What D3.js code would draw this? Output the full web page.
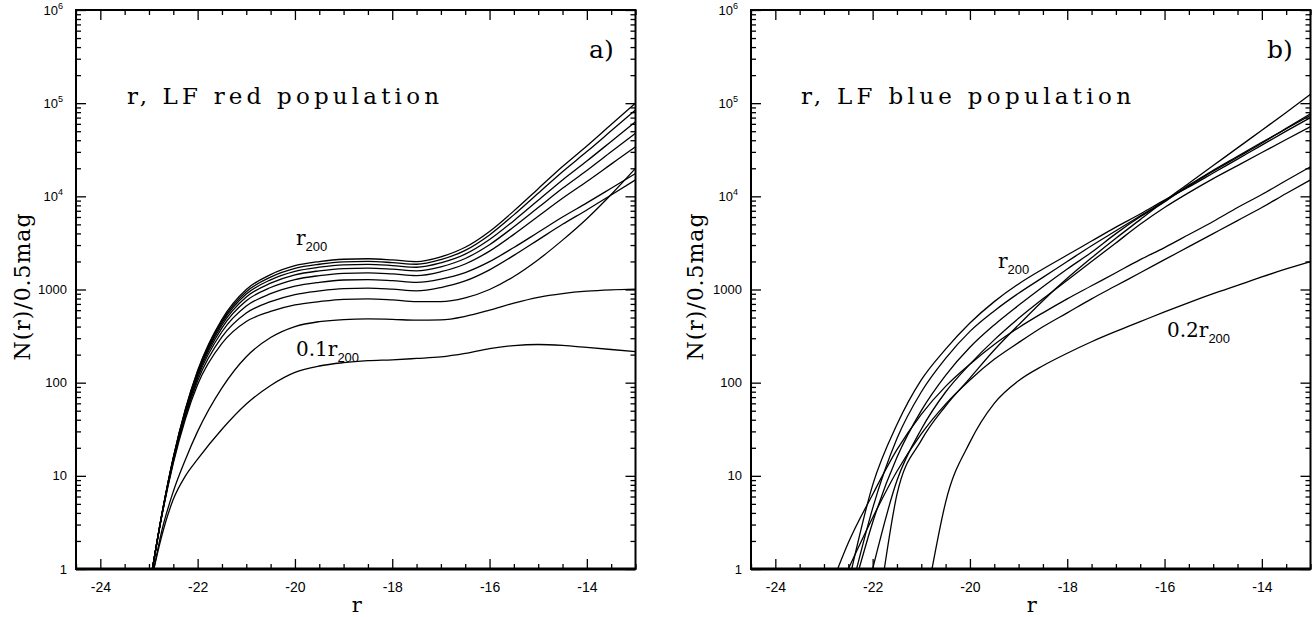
<!DOCTYPE html>
<html><head><meta charset="utf-8">
<script src="https://cdn.jsdelivr.net/npm/d3@7"></script>
<style>body{margin:0;background:#fff;} svg{display:block;}</style>
</head><body>
<svg id="c" width="1315" height="617"></svg>
<script>
// ---------- data ----------
// panel a) red population: magnitude grid, magnitude where N=1, then N at grid
const redGrid = [-22.75,-22.5,-22.25,-22,-21.5,-21,-20.5,-20,-19.5,-19,-18.5,-18,-17.5,-17,-16.5,-16,-15.5,-15,-14.5,-14,-13.5,-13];
const redStarts = [-22.93,-22.93,-22.93,-22.93,-22.93,-22.93,-22.93,-22.93,-22.9,-22.9];
const red1 = [3.5,15.8,52.5,135,479,1000,1445,1799,1995,2113,2138,2080,1995,2244,2838,4198,6982,12080,20890,34750,59020,100000];
const red2 = [3.5,15.7,51.6,132,460,948,1359,1685,1866,1977,2000,1945,1866,2094,2630,3855,6324,10790,18410,30200,50470,84530];
const red3 = [3.52,15.5,50.7,128,440,893,1271,1567,1734,1837,1858,1807,1734,1932,2393,3436,5483,9057,15000,23930,38820,63100];
const red4 = [3.51,15.3,49.5,124,417,832,1169,1436,1585,1679,1698,1652,1585,1754,2153,3027,4710,7568,12190,18970,30060,47530];
const red5 = [3.48,15.0,48.1,119,388,757,1050,1279,1409,1493,1510,1469,1409,1552,1879,2582,3908,6109,9528,14420,22180,34120];
const red6 = [3.46,14.7,46.1,113,352,664,902,1086,1194,1265,1279,1245,1194,1294,1521,1991,2825,4111,5998,8511,12220,17580];
const red7 = [3.42,14.2,43.8,105,310,560,741,883,966,1023,1035,1007,966,1050,1236,1626,2323,3412,5012,7145,10350,15000];
const red8 = [3.38,13.7,41.0,95.4,264,453,581,682,741,785,794,773,741,741,813,1000,1380,2089,3388,5754,10470,19950];
const red9 = [2.4,6.8,15,30,88,190,305,400,452,476,483,478,468,472,515,600,715,825,905,960,992,1010];
const red10 = [2.14,5.6,10,15.1,31.6,58.9,93.3,129,151,164,172,176,182,189,206,232,250,257,251,239,227,215];

// panel b) blue population
const blueGrid = [-22.5,-22,-21.5,-21,-20.5,-20,-19.5,-19,-18.5,-18,-17.5,-17,-16.5,-16,-15.5,-15,-14.5,-14,-13.5,-13];
const blueStarts = [-22.43,-22.33,-22.28,-22.0,-21.76,-22.72,-22.5,-20.78];
const blue1 = [null,7.94,35.5,107,229,437,741,1148,1660,2344,3311,4677,6457,9120,12590,17780,25120,35480,50120,69980];
const blue2 = [null,4.47,25.1,79.4,182,355,589,912,1349,1995,2951,4266,6166,8913,12880,18620,26300,37150,53700,76910];
const blue3 = [null,3.16,15.8,50.1,120,240,417,676,1072,1660,2512,3981,6026,8710,13180,19050,26920,38020,53090,73960];
const blue4 = [null,null,8.91,31.6,79.4,158,288,490,794,1259,1995,3162,5012,7586,10960,15490,21380,29510,40740,55980];
const blue5 = [null,null,6.31,24,56.2,112,224,417,759,1318,2188,3548,5623,8913,13800,21380,33110,51290,79430,124500];
const blue6 = [1.91,6.31,19.1,45.7,91.2,158,257,389,562,794,1096,1514,2089,2818,3890,5370,7586,10470,14790,20800];
const blue7 = [null,3.55,11.2,28.2,58.9,107,178,269,398,562,794,1096,1514,2089,2884,3981,5495,7586,10720,15000];
const blue8 = [null,null,null,null,5.2,23,60,105,152,207,275,355,452,575,724,902,1109,1365,1660,1995];

const xTickLabels = ["-24","-22","-20","-18","-16","-14"];
const xMajor = [-24,-22,-20,-18,-16,-14];
const yMajor = [1,10,100,1000,1e4,1e5,1e6];
const yTickLabels = [["1",""],["10",""],["100",""],["1000",""],["10","4"],["10","5"],["10","6"]];

const panels = [
  {x0:76, x1:635.5, title:"r, LF red population", titleX:127, titleW:312, tag:"a)", tagX:589,
   grid:redGrid, starts:redStarts, series:[red1,red2,red3,red4,red5,red6,red7,red8,red9,red10],
   labels:[{t:"r",s:"200",x:296,y:245},{t:"0.1r",s:"200",x:296,y:356}], ylabX:30},
  {x0:751, x1:1310.5, title:"r, LF blue population", titleX:801, titleW:330, tag:"b)", tagX:1267,
   grid:blueGrid, starts:blueStarts, series:[blue1,blue2,blue3,blue4,blue5,blue6,blue7,blue8],
   labels:[{t:"r",s:"200",x:998,y:268},{t:"0.2r",s:"200",x:1167,y:337}], ylabX:703}
];

const Y0 = 10, Y1 = 569;
const svg = d3.select("#c");
const serif = "'DejaVu Serif','Liberation Serif',serif";
const sans = "'Liberation Sans',Arial,sans-serif";

panels.forEach((p, pi) => {
  const x = d3.scaleLinear().domain([-24.5,-13]).range([p.x0,p.x1]);
  const y = d3.scaleLog().domain([1,1e6]).range([Y1,Y0]);
  const g = svg.append("g");

  const clipId = "clip"+pi;
  svg.append("clipPath").attr("id",clipId).append("rect")
    .attr("x",p.x0).attr("y",Y0).attr("width",p.x1-p.x0).attr("height",Y1-Y0);

  const xMinor = d3.range(-24.5,-12.99,0.5).filter(v => Math.abs(v/2-Math.round(v/2))>1e-6);
  const yMinor = [];
  for (let d=1; d<1e6; d*=10) for (let k=2;k<=9;k++) yMinor.push(d*k);

  const styleAxis = sel => { sel.select(".domain").remove(); sel.selectAll("line").attr("stroke","#000").attr("stroke-width",1.3); };

  g.append("g").attr("transform",`translate(0,${Y1})`)
    .call(d3.axisBottom(x).tickValues(xMajor).tickSize(-10).tickPadding(13).tickFormat((d,i)=>xTickLabels[i]))
    .call(styleAxis)
    .call(s=>s.selectAll("text").attr("font-family",sans).attr("font-size",14).attr("fill","#000"));
  g.append("g").attr("transform",`translate(0,${Y1})`)
    .call(d3.axisBottom(x).tickValues(xMinor).tickSize(-5).tickFormat(""))
    .call(styleAxis);
  g.append("g").attr("transform",`translate(0,${Y0})`)
    .call(d3.axisTop(x).tickValues(xMajor).tickSize(-10).tickFormat(""))
    .call(styleAxis);
  g.append("g").attr("transform",`translate(0,${Y0})`)
    .call(d3.axisTop(x).tickValues(xMinor).tickSize(-5).tickFormat(""))
    .call(styleAxis);
  g.append("g").attr("transform",`translate(${p.x0},0)`)
    .call(d3.axisLeft(y).tickValues(yMajor).tickSize(-10).tickFormat(""))
    .call(styleAxis);
  g.append("g").attr("transform",`translate(${p.x0},0)`)
    .call(d3.axisLeft(y).tickValues(yMinor).tickSize(-5).tickFormat(""))
    .call(styleAxis);
  g.append("g").attr("transform",`translate(${p.x1},0)`)
    .call(d3.axisRight(y).tickValues(yMajor).tickSize(-10).tickFormat(""))
    .call(styleAxis);
  g.append("g").attr("transform",`translate(${p.x1},0)`)
    .call(d3.axisRight(y).tickValues(yMinor).tickSize(-5).tickFormat(""))
    .call(styleAxis);

  g.append("rect").attr("x",p.x0).attr("y",Y0).attr("width",p.x1-p.x0).attr("height",Y1-Y0)
    .attr("fill","none").attr("stroke","#000").attr("stroke-width",2);
  g.append("line").attr("x1",p.x0).attr("x2",p.x1).attr("y1",Y1).attr("y2",Y1)
    .attr("stroke","#000").attr("stroke-width",3);

  yMajor.forEach((v,i) => {
    const t = g.append("text").attr("x",p.x0-9).attr("y",y(v)+4.5)
      .attr("text-anchor","end").attr("font-family",sans).attr("font-size",13).attr("fill","#000");
    if (yTickLabels[i][1]) {
      t.attr("x",p.x0-13);
      t.append("tspan").text(yTickLabels[i][0]);
      t.append("tspan").attr("font-size",9).attr("dy",-6).text(yTickLabels[i][1]);
    } else t.text(yTickLabels[i][0]);
  });

  const line = d3.line().x(d=>x(d.r)).y(d=>y(d.n)).curve(d3.curveMonotoneX);
  p.series.forEach((vals, si) => {
    const start = p.starts[si];
    const pts = [{r:start,n:1}].concat(p.grid.map((r,i)=>({r,n:vals[i]})).filter(d=>d.n!=null && d.r>start));
    g.append("path").attr("d",line(pts)).attr("fill","none").attr("stroke","#000")
      .attr("stroke-width",1.3).attr("clip-path",`url(#${clipId})`);
  });

  g.append("text").attr("x",p.titleX).attr("y",104).attr("font-family",serif).attr("font-size",23)
    .attr("textLength",p.titleW).attr("lengthAdjust","spacing").text(p.title);
  g.append("text").attr("x",p.tagX).attr("y",58).attr("font-family",serif).attr("font-size",25).text(p.tag);
  p.labels.forEach(l => {
    const t = g.append("text").attr("x",l.x).attr("y",l.y).attr("font-family",serif).attr("font-size",20);
    t.append("tspan").text(l.t);
    t.append("tspan").attr("font-family",sans).attr("font-size",13).attr("dy",6).text(l.s);
  });
  g.append("text").attr("x",(p.x0+p.x1)/2+1).attr("y",612).attr("text-anchor","middle")
    .attr("font-family",serif).attr("font-size",21).text("r");
  g.append("text").attr("transform",`translate(${p.ylabX},287) rotate(-90)`).attr("text-anchor","middle")
    .attr("font-family",serif).attr("font-size",22).attr("textLength",147).attr("lengthAdjust","spacing")
    .text("N(r)/0.5mag");
});
</script>
</body></html>
